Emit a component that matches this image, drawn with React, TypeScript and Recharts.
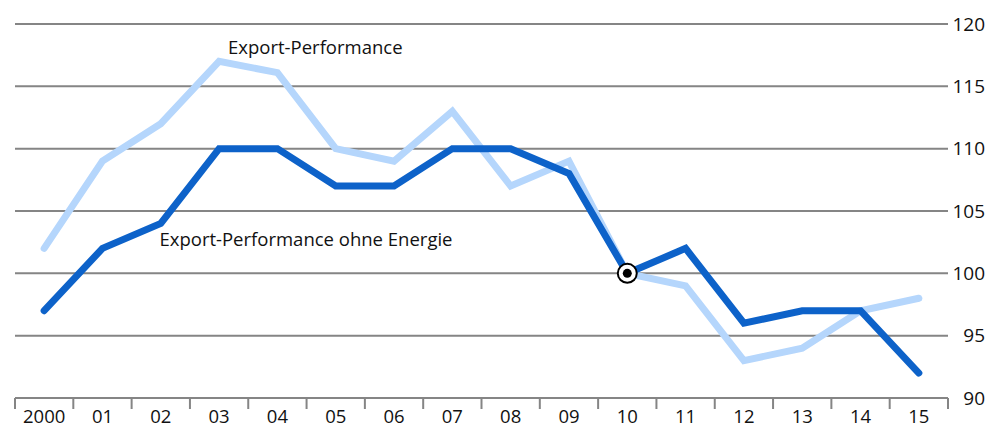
import React from 'react';
import { ComposedChart, Line, XAxis, YAxis, CartesianGrid, ReferenceDot } from 'recharts';

const years = ['2000', '01', '02', '03', '04', '05', '06', '07', '08', '09', '10', '11', '12', '13', '14', '15'];
const exportPerformance = [102, 109, 112, 117, 116.1, 110, 109, 113, 107, 109, 100, 99, 93, 94, 97, 98];
const exportOhneEnergie = [97, 102, 104, 110, 110, 107, 107, 110, 110, 108, 100, 102, 96, 97, 97, 92];
const yTicks = [90, 95, 100, 105, 110, 115, 120];

const data = years.map((y, i) => ({ i, year: y, ep: exportPerformance[i], epo: exportOhneEnergie[i] }));
const boundaryTicks = years.map((_, i) => i - 0.5).concat([years.length - 0.5]);

const W = 986;
const H = 428;
const M = { top: 24, right: 0, left: 15, bottom: 0 };
const Y_W = 38;
const HALF_BAND = (W - M.left - M.right - Y_W) / years.length / 2;
const FONT = '"Open Sans", sans-serif';

const XTick = (props: any) => {
  const { x, y, payload } = props;
  const idx = Math.round(payload.value + 0.5);
  if (idx >= years.length) return null;
  return (
    <text x={x + HALF_BAND} y={y + 11.5} textAnchor="middle" fontSize={18.5} fontFamily={FONT} fill="#111">
      {years[idx]}
    </text>
  );
};

const YTick = (props: any) => {
  const { x, y, payload } = props;
  return (
    <text x={x + Y_W - 1} y={y} dy={6.5} textAnchor="end" fontSize={19} fontFamily={FONT} fill="#111">
      {payload.value}
    </text>
  );
};

const Marker = (props: any) => {
  const { cx, cy } = props;
  return (
    <g>
      <circle cx={cx} cy={cy} r={9.5} fill="#fff" stroke="#000" strokeWidth={2} />
      <circle cx={cx} cy={cy} r={4.5} fill="#000" />
    </g>
  );
};

export default function App() {
  return (
    <div style={{ position: 'absolute', left: 0, top: 0, width: W, height: H, background: '#fff' }}>
      <ComposedChart width={W} height={H} data={data} margin={M}>
        <CartesianGrid vertical={false} stroke="#858585" strokeWidth={2} horizontalValues={[95, 100, 105, 110, 115, 120]} />
        <XAxis
          dataKey="i"
          type="number"
          domain={[-0.5, years.length - 0.5]}
          ticks={boundaryTicks}
          interval={0}
          height={30}
          tick={<XTick />}
          tickSize={11}
          tickLine={{ stroke: '#858585', strokeWidth: 2 }}
          axisLine={{ stroke: '#858585', strokeWidth: 2 }}
        />
        <YAxis
          orientation="right"
          domain={[90, 120]}
          ticks={yTicks}
          width={Y_W}
          tickLine={false}
          axisLine={false}
          tickSize={0}
          tickMargin={0}
          tick={<YTick />}
        />
        <Line
          dataKey="ep"
          stroke="#b5d6fc"
          strokeWidth={7}
          strokeLinecap="round"
          dot={false}
          isAnimationActive={false}
        />
        <Line
          dataKey="epo"
          stroke="#0d62c9"
          strokeWidth={7}
          strokeLinecap="round"
          dot={false}
          isAnimationActive={false}
        />
        <ReferenceDot x={10} y={100} r={9} shape={<Marker />} isFront />
        <ReferenceDot
          x={4.65}
          y={118.1}
          r={0}
          fill="none"
          stroke="none"
          label={{ value: 'Export-Performance', position: 'center', fontSize: 18.5, fontFamily: FONT, fill: '#111' }}
        />
        <ReferenceDot
          x={4.49}
          y={102.75}
          r={0}
          fill="none"
          stroke="none"
          label={{ value: 'Export-Performance ohne Energie', position: 'center', fontSize: 18.5, fontFamily: FONT, fill: '#111' }}
        />
      </ComposedChart>
    </div>
  );
}
